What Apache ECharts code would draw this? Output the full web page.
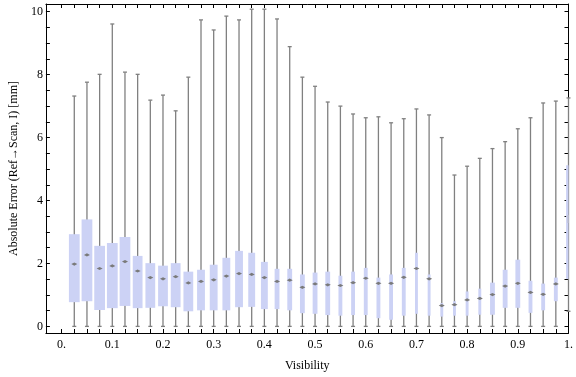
<!DOCTYPE html>
<html>
<head>
<meta charset="utf-8">
<script src="https://cdn.jsdelivr.net/npm/echarts@6/dist/echarts.min.js"></script>
<style>
  html, body { margin: 0; padding: 0; background: #fff; }
  #chart { width: 576px; height: 377px; }
</style>
</head>
<body>
<div id="chart"></div>
<script>
// visibility bins (box centres)
const visibility = [0.025, 0.05, 0.075, 0.1, 0.125, 0.15, 0.175, 0.2, 0.225, 0.25,
  0.275, 0.3, 0.325, 0.35, 0.375, 0.4, 0.425, 0.45, 0.475, 0.5,
  0.525, 0.55, 0.575, 0.6, 0.625, 0.65, 0.675, 0.7, 0.725, 0.75,
  0.775, 0.8, 0.825, 0.85, 0.875, 0.9, 0.925, 0.95, 0.975, 1.0]
// absolute error statistics per bin [mm]
const errMin = [0, 0, 0, 0, 0, 0, 0, 0, 0, 0,
  0, 0, 0, 0, 0, 0, 0, 0, 0, 0,
  0, 0, 0, 0, 0, 0, 0, 0, 0, 0,
  0, 0, 0, 0, 0, 0, 0, 0, 0, 0.48]
const errQ1 = [0.77, 0.80, 0.52, 0.58, 0.65, 0.58, 0.59, 0.64, 0.61, 0.48,
  0.51, 0.51, 0.51, 0.61, 0.62, 0.55, 0.55, 0.51, 0.42, 0.40,
  0.36, 0.34, 0.36, 0.36, 0.26, 0.21, 0.34, 0.40, 0.34, 0.31,
  0.34, 0.34, 0.37, 0.37, 0.59, 0.59, 0.43, 0.51, 0.80, 1.51]
const errMedian = [1.98, 2.27, 1.84, 1.92, 2.06, 1.76, 1.55, 1.51, 1.58, 1.38,
  1.43, 1.48, 1.60, 1.68, 1.65, 1.55, 1.43, 1.47, 1.24, 1.35,
  1.32, 1.30, 1.39, 1.53, 1.37, 1.37, 1.56, 1.84, 1.51, 0.66,
  0.69, 0.84, 0.89, 1.01, 1.28, 1.37, 1.08, 1.02, 1.35, 3.41]
const errQ3 = [2.93, 3.40, 2.56, 2.65, 2.84, 2.24, 2.01, 1.93, 2.01, 1.74,
  1.80, 1.96, 2.18, 2.40, 2.34, 2.05, 1.83, 1.83, 1.65, 1.71,
  1.74, 1.61, 1.74, 1.86, 1.55, 1.65, 1.86, 2.34, 1.65, 0.74,
  0.80, 1.11, 1.20, 1.39, 1.80, 2.12, 1.45, 1.36, 1.55, 5.12]
const errMax = [7.32, 7.76, 8.01, 9.61, 8.08, 8.01, 7.19, 7.35, 6.85, 7.92,
  9.74, 9.42, 9.86, 9.74, 10.08, 10.08, 9.77, 8.89, 7.92, 7.63,
  7.13, 7.00, 6.75, 6.63, 6.66, 6.47, 6.60, 6.91, 6.72, 6.00,
  4.81, 5.09, 5.34, 5.65, 5.87, 6.28, 6.63, 7.10, 7.16, 7.26]
// relative sample share of each bin (drives the box width)
const binShare = [1, 1, 1, 1, 1, 0.91, 0.91, 0.91, 0.91, 0.91,
  0.73, 0.73, 0.73, 0.73, 0.64, 0.64, 0.45, 0.45, 0.45, 0.45,
  0.45, 0.36, 0.36, 0.36, 0.36, 0.36, 0.36, 0.27, 0.27, 0.27,
  0.27, 0.27, 0.27, 0.45, 0.45, 0.45, 0.36, 0.36, 0.36, 0.45]

// axis ticks and labels
const xTickValues = []
for (let i = 0; i <= 40; i++) xTickValues.push(+(i * 0.025).toFixed(3))
const xLabelValues = [0, 0.1, 0.2, 0.3, 0.4, 0.5, 0.6, 0.7, 0.8, 0.9, 1]
const xTickLabels = ['0.', '0.1', '0.2', '0.3', '0.4', '0.5', '0.6', '0.7', '0.8', '0.9', '1.']
const yTickValues = []
for (let i = 0; i <= 20; i++) yTickValues.push(i * 0.5)
const yLabelValues = [0, 2, 4, 6, 8, 10]
const yTickLabels = ['0', '2', '4', '6', '8', '10']

const FONT = "'Liberation Serif', 'DejaVu Serif', serif"
const MAX_BOX_W = 0.0212
const BOX_COLOR = '#ccd2f5'
const WHISKER_COLOR = '#808080'

const chart = echarts.init(document.getElementById('chart'))

const seriesData = visibility.map((v, i) =>
  [v, errMin[i], errQ1[i], errMedian[i], errQ3[i], errMax[i], binShare[i]])

function renderBox(params, api) {
  const x = api.value(0)
  const pMin = api.coord([x, api.value(1)])
  const pQ1 = api.coord([x, api.value(2)])
  const pMed = api.coord([x, api.value(3)])
  const pQ3 = api.coord([x, api.value(4)])
  const pMax = api.coord([x, api.value(5)])
  const halfW = api.size([api.value(6) * MAX_BOX_W, 0])[0] / 2
  const cx = pMin[0]
  const cs = params.coordSys
  const clipArea = { x: cs.x, y: cs.y, width: cs.width, height: cs.height }
  const lineStyle = { stroke: WHISKER_COLOR, lineWidth: 1.3 }
  const box = echarts.graphic.clipRectByRect(
    { x: cx - halfW, y: pQ3[1], width: halfW * 2, height: pQ1[1] - pQ3[1] }, clipArea)
  const children = [
    { type: 'line', shape: { x1: cx, y1: pMin[1], x2: cx, y2: pMax[1] }, style: lineStyle },
    { type: 'line', shape: { x1: cx - 2, y1: pMin[1], x2: cx + 2, y2: pMin[1] }, style: lineStyle },
    { type: 'line', shape: { x1: cx - 2, y1: pMax[1], x2: cx + 2, y2: pMax[1] }, style: lineStyle }
  ]
  if (box) children.push({ type: 'rect', shape: box, style: { fill: BOX_COLOR } })
  if (cx <= cs.x + cs.width - 1) {
    children.push({
      type: 'polygon',
      shape: { points: [[cx - 3, pMed[1]], [cx, pMed[1] - 1.6], [cx + 3, pMed[1]], [cx, pMed[1] + 1.6]] },
      style: { fill: '#7a7a7a' }
    })
  } else {
    children.push({
      type: 'rect',
      shape: { x: cx - 1.5, y: pMed[1] - 4, width: 1.5, height: 8 },
      style: { fill: '#c4c6dc' }
    })
  }
  return { type: 'group', children: children }
}

const frameLine = { show: true, onZero: false, lineStyle: { color: '#000', width: 1 } }
const xLabelFormatter = v => {
  const i = xLabelValues.findIndex(t => Math.abs(t - v) < 1e-6)
  return i < 0 ? '' : xTickLabels[i]
}
const yLabelFormatter = v => {
  const i = yLabelValues.findIndex(t => Math.abs(t - v) < 1e-6)
  return i < 0 ? '' : yTickLabels[i]
}

const option = {
  animation: false,
  backgroundColor: '#fff',
  grid: { left: 36, right: 4, top: 4, bottom: 40 },
  xAxis: [
    {
      type: 'value', position: 'bottom', min: -0.031, max: 1.0,
      name: 'Visibility', nameLocation: 'middle', nameGap: 27,
      nameTextStyle: { fontFamily: FONT, fontSize: 12, color: '#000' },
      axisLine: frameLine,
      axisTick: { show: true, inside: true, length: 4, customValues: xTickValues, lineStyle: { color: '#000' } },
      axisLabel: { show: true, customValues: xLabelValues, formatter: xLabelFormatter, margin: 6,
        fontFamily: FONT, fontSize: 12, color: '#000', showMinLabel: true, showMaxLabel: true },
      splitLine: { show: false }
    },
    {
      type: 'value', position: 'top', min: -0.031, max: 1.0,
      axisLine: frameLine,
      axisTick: { show: true, inside: true, length: 4, customValues: xTickValues, lineStyle: { color: '#000' } },
      axisLabel: { show: false },
      splitLine: { show: false }
    }
  ],
  yAxis: [
    {
      type: 'value', position: 'left', min: -0.21, max: 10.245,
      name: 'Absolute Error (Ref\u2192Scan, I) [mm]', nameLocation: 'middle', nameGap: 24, nameRotate: 90,
      nameTextStyle: { fontFamily: FONT, fontSize: 12, color: '#000' },
      axisLine: frameLine,
      axisTick: { show: true, inside: true, length: 4, customValues: yTickValues, lineStyle: { color: '#000' } },
      axisLabel: { show: true, customValues: yLabelValues, formatter: yLabelFormatter, margin: 3,
        fontFamily: FONT, fontSize: 12, color: '#000' },
      splitLine: { show: false }
    },
    {
      type: 'value', position: 'right', min: -0.21, max: 10.245,
      axisLine: frameLine,
      axisTick: { show: true, inside: true, length: 4, customValues: yTickValues, lineStyle: { color: '#000' } },
      axisLabel: { show: false },
      splitLine: { show: false }
    }
  ],
  series: [
    {
      type: 'custom',
      xAxisIndex: 0,
      yAxisIndex: 0,
      renderItem: renderBox,
      encode: { x: 0, y: [1, 2, 3, 4, 5] },
      data: seriesData,
      z: 1
    }
  ]
}
chart.setOption(option)
</script>
</body>
</html>
